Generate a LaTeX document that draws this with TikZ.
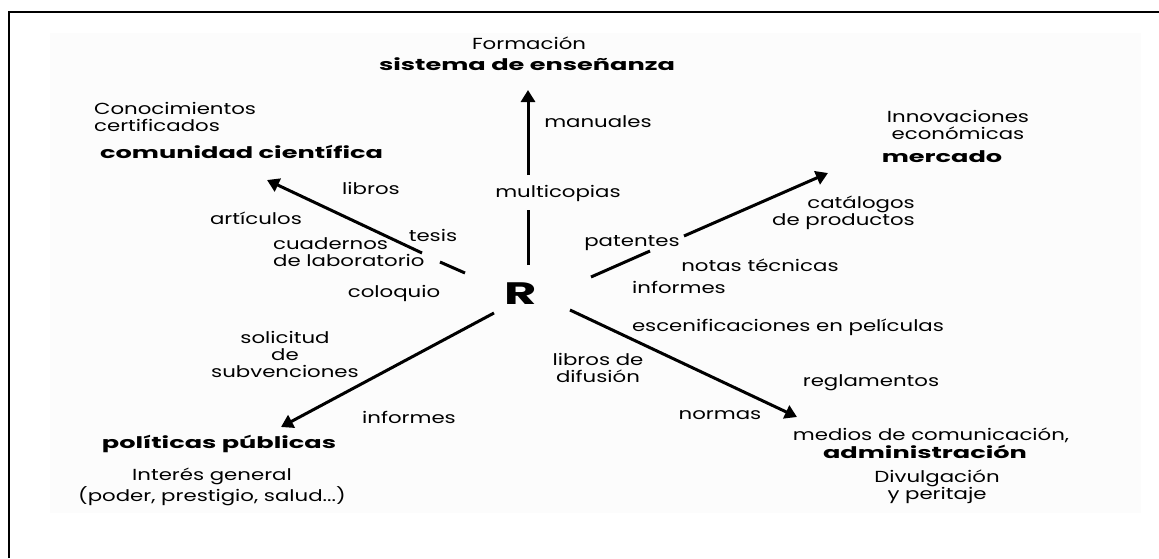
\documentclass[tikz,border=0pt]{standalone}
\usepackage{fontspec}
\setmainfont{Poppins}[FakeStretch=1.33]
\newfontfamily\heavy{Poppins}[UprightFont={* Bold}, FakeStretch=1.6]
\usetikzlibrary{arrows.meta}

\begin{document}
\begin{tikzpicture}[x=1pt,y=-1pt,
    lbl/.style={font=\fontsize{16}{17}\selectfont, align=center, inner sep=0pt},
    hd/.style={font=\fontsize{16}{17}\selectfont\heavy, align=center, inner sep=0pt},
    flow/.style={line width=3pt, -{Triangle[length=12pt,width=14pt]}},
    seg/.style={line width=3pt}]
  \useasboundingbox (0,0) rectangle (1159,558);

  % Frame
  \fill[black!1.2] (50,33) rectangle (1141,513);
  \draw[line width=1.6pt] (9,558) -- (9,12) -- (1159,12);

  % Centre
  \node[font=\fontsize{31}{31}\selectfont\heavy] (r) at (521,294) {R};

  % Arrow ends
  \coordinate (upT) at (528,265);  \coordinate (upA) at (528,210);
  \coordinate (upB) at (528,175);  \coordinate (upH) at (528,90);
  \coordinate (ulT) at (465,273);  \coordinate (ulA) at (440,262);
  \coordinate (ulB) at (422,253);  \coordinate (ulH) at (267,180);
  \coordinate (urT) at (591,277);  \coordinate (urA) at (650,251);
  \coordinate (urB) at (684,236);  \coordinate (urH) at (828,173);
  \coordinate (llT) at (494,313);  \coordinate (llH) at (281,427);
  \coordinate (lrT) at (570,310);  \coordinate (lrH) at (797,417);

  % Arrows
  \draw[seg] (upT) -- (upA);
  \draw[flow] (upB) -- (upH);
  \draw[seg] (ulT) -- (ulA);
  \draw[flow] (ulB) -- (ulH);
  \draw[seg] (urT) -- (urA);
  \draw[flow] (urB) -- (urH);
  \draw[flow] (llT) -- (llH);
  \draw[flow] (lrT) -- (lrH);

  % Formacion
  \node[lbl] (form) at (529,43) {Formación};
  \node[hd] (ense) at (527,64) {sistema de enseñanza};
  \node[lbl] (manu) at (598,122) {manuales};
  \node[lbl] (mult) at (558,193) {multicopias};

  % Comunidad cientifica
  \node[lbl, align=left, anchor=west] (conoc) at (94,117) {Conocimientos\\certificados};
  \node[hd, anchor=west] (comu) at (100,152) {comunidad científica};
  \node[lbl] (libr) at (371,188) {libros};
  \node[lbl] (arti) at (256,218) {artículos};
  \node[lbl] (tesi) at (433,235) {tesis};
  \node[lbl, align=left, anchor=west] (cuad) at (273,252) {cuadernos\\de laboratorio};
  \node[lbl] (colo) at (394,293) {coloquio};

  % Mercado
  \node[lbl] (inno) at (958,125) {Innovaciones\\económicas};
  \node[hd] (merc) at (942,157) {mercado};
  \node[lbl, align=right, anchor=east] (cata) at (915,213) {catálogos\\de productos};
  \node[lbl] (pate) at (632,243) {patentes};
  \node[lbl] (nota) at (760,265) {notas técnicas};
  \node[lbl] (infr) at (679,287) {informes};

  % Administracion
  \node[lbl] (esce) at (788,327) {escenificaciones en películas};
  \node[lbl] (difu) at (598,368) {libros de\\difusión};
  \node[lbl] (regl) at (871,383) {reglamentos};
  \node[lbl] (norm) at (720,415) {normas};
  \node[lbl] (medi) at (931,435) {medios de comunicación,};
  \node[hd] (admi) at (925,452) {administración};
  \node[lbl] (divu) at (937,487) {Divulgación\\y peritaje};

  % Politicas publicas
  \node[lbl] (soli) at (285,354) {solicitud\\de\\subvenciones};
  \node[lbl] (infl) at (409,417) {informes};
  \node[hd] (poli) at (219,444) {políticas públicas};
  \node[lbl] (inte) at (212,487) {Interés general\\(poder, prestigio, salud...)};
\end{tikzpicture}
\end{document}
